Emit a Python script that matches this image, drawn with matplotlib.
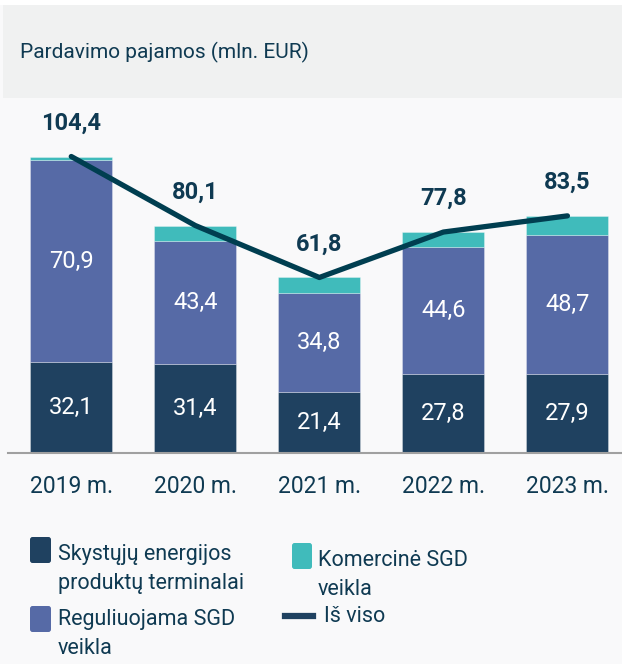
import matplotlib
matplotlib.use("Agg")
import matplotlib.pyplot as plt
from matplotlib.patches import Rectangle, FancyBboxPatch
from matplotlib.lines import Line2D
import numpy as np

years = ["2019 m.", "2020 m.", "2021 m.", "2022 m.", "2023 m."]
terminals = [32.1, 31.4, 21.4, 27.8, 27.9]
regulated = [70.9, 43.4, 34.8, 44.6, 48.7]
commercial = [1.4, 5.3, 5.6, 5.4, 6.9]
totals = [104.4, 80.1, 61.8, 77.8, 83.5]

title = "Pardavimo pajamos (mln. EUR)"
leg_labels = ["Skystųjų energijos\nproduktų terminalai", "Reguliuojama SGD\nveikla",
              "Komercinė SGD\nveikla", "Iš viso"]

C_TERM = "#1f4160"
C_REG = "#566aa6"
C_COM = "#40bbbb"
C_LINE = "#003e50"
C_TXT = "#0f3a52"

plt.rcParams['font.family'] = ['Roboto', 'DejaVu Sans']

W, H = 622, 664
fig = plt.figure(figsize=(W/100, H/100), dpi=100)
fig.patch.set_facecolor("#f9f9fa")

def fx(px): return px / W
def fy(py): return 1 - py / H

# header band
fig.patches.append(Rectangle((0, fy(5)), 1, fy(0)-fy(5), transform=fig.transFigure,
                             facecolor="white", edgecolor="none", zorder=0))
fig.patches.append(Rectangle((fx(3), fy(98)), 1, fy(5)-fy(98), transform=fig.transFigure,
                             facecolor="#f0f1f1", edgecolor="none", zorder=0))
fig.text(fx(20), fy(52), title, fontsize=15, color=C_TXT, va="center", ha="left")

base_y = 453
top_y = 98
ax = fig.add_axes([fx(8), fy(base_y), fx(622)-fx(8), fy(top_y)-fy(base_y)])
ax.set_facecolor("none")
x = np.arange(len(years))
ppu = 2.84
ax.set_ylim(0, (base_y - top_y) / ppu)
ax.set_xlim(-0.51, 4.44)

w = 0.66
t = np.array(terminals); r = np.array(regulated); c = np.array(commercial)
ek = dict(edgecolor=(1, 1, 1, 0.35), linewidth=0.6, zorder=2)
ax.bar(x, t, width=w, color=C_TERM, **ek)
ax.bar(x, r, width=w, bottom=t, color=C_REG, **ek)
ax.bar(x, c, width=w, bottom=t + r, color=C_COM, **ek)
ax.plot(x, totals, color=C_LINE, lw=3.8, solid_capstyle="round", solid_joinstyle="round", zorder=3)

fmt = lambda v: f"{v:.1f}".replace(".", ",")
for i in range(len(x)):
    ax.text(x[i], t[i]/2, fmt(t[i]), color="white", fontsize=17, ha="center", va="center", zorder=4)
    ax.text(x[i], t[i] + r[i]/2, fmt(r[i]), color="white", fontsize=17, ha="center", va="center", zorder=4)
    ax.annotate(fmt(totals[i]), (x[i], totals[i]), xytext=(0, 24), textcoords="offset points",
                ha="center", va="center", fontsize=17, fontweight="bold", color=C_TXT, zorder=4)

for s in ["top", "left", "right"]:
    ax.spines[s].set_visible(False)
ax.spines["bottom"].set_color("#a0a0a0")
ax.spines["bottom"].set_linewidth(1.5)
ax.set_yticks([])
ax.set_xticks(x, years)
ax.tick_params(axis="x", length=0, pad=16, labelsize=16.5, labelcolor=C_TXT)

# legend (manual)
def square(px, py, wpx, hpx, color):
    fig.patches.append(FancyBboxPatch((fx(px), fy(py + hpx)), fx(wpx), fy(0) - fy(hpx),
                                      boxstyle="round,pad=0,rounding_size=0.004",
                                      transform=fig.transFigure, facecolor=color,
                                      edgecolor="none"))

LS = 1.45
LF = 15.5
square(30, 537, 21, 26, C_TERM)
fig.text(fx(58), fy(569), leg_labels[0], fontsize=LF, color=C_TXT, va="center", ha="left",
         linespacing=LS)
square(30, 606, 21, 26, C_REG)
fig.text(fx(58), fy(634), leg_labels[1], fontsize=LF, color=C_TXT, va="center", ha="left",
         linespacing=LS)
square(292, 543, 20, 26, C_COM)
fig.text(fx(318), fy(575), leg_labels[2], fontsize=LF, color=C_TXT, va="center", ha="left",
         linespacing=LS)
fig.lines.append(Line2D([fx(285), fx(313)], [fy(616), fy(616)], transform=fig.transFigure,
                        color=C_TERM, lw=4.5))
fig.text(fx(324), fy(617), leg_labels[3], fontsize=LF, color=C_TXT, va="center", ha="left")

fig.savefig("out.png", dpi=100, facecolor=fig.get_facecolor())
